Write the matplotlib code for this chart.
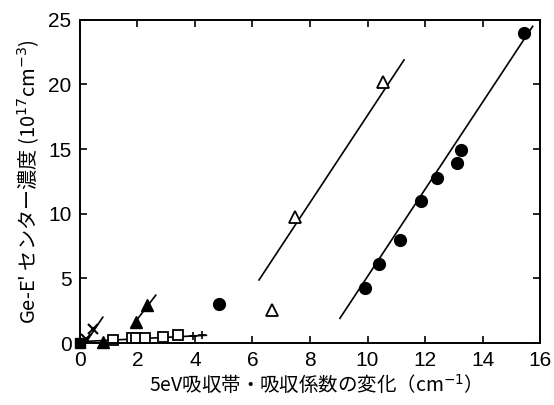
import matplotlib
matplotlib.use("Agg")
import matplotlib.pyplot as plt

plt.rcParams['font.family'] = ['Liberation Sans', 'Noto Sans CJK JP', 'DejaVu Sans']

# filled circles
circ_x = [4.85, 9.91, 10.41, 11.13, 11.85, 12.43, 13.12, 13.24, 15.44]
circ_y = [3.02, 4.28, 6.09, 7.97, 11.0, 12.8, 13.95, 14.9, 24.0]
circ_fit_x = [9.04, 15.74]
circ_fit_y = [1.91, 24.5]

# open triangles
otri_x = [6.69, 7.48, 10.53]
otri_y = [2.55, 9.78, 20.2]
otri_fit_x = [6.23, 11.27]
otri_fit_y = [4.88, 21.9]

# filled triangles
ftri_x = [0.81, 1.97, 2.32]
ftri_y = [0.05, 1.65, 2.94]
ftri_fit_x = [1.80, 2.64]
ftri_fit_y = [1.26, 3.7]

# crosses
cross_x = [0.22, 0.47]
cross_y = [0.35, 1.1]
cross_fit_x = [0.2, 0.8]
cross_fit_y = [0.0, 2.0]

# filled square
fsq_x = [0.0]
fsq_y = [0.0]

# open squares
osq_x = [1.16, 1.82, 1.95, 2.28, 2.9, 3.43]
osq_y = [0.25, 0.36, 0.36, 0.38, 0.5, 0.6]
plus_x = [3.95, 4.25]
plus_y = [0.55, 0.6]
osq_fit_x = [0.0, 4.4]
osq_fit_y = [0.1, 0.6]

fig = plt.figure(figsize=(5.54, 4.05), dpi=100)
ax = fig.add_axes([0.144, 0.153, 0.831, 0.798])

ln = dict(color='black', lw=1.2)
ax.plot(circ_fit_x, circ_fit_y, **ln)
ax.plot(otri_fit_x, otri_fit_y, **ln)
ax.plot(ftri_fit_x, ftri_fit_y, **ln)
ax.plot(cross_fit_x, cross_fit_y, **ln)
ax.plot(osq_fit_x, osq_fit_y, **ln)

ax.plot(circ_x, circ_y, 'o', color='black', ms=8.5, clip_on=False)
ax.plot(otri_x, otri_y, '^', mfc='white', mec='black', mew=1.3, ms=9)
ax.plot(ftri_x, ftri_y, '^', color='black', ms=8.5, clip_on=False)
ax.plot(cross_x, cross_y, 'x', color='black', ms=7, mew=1.5)
ax.plot(osq_x, osq_y, 's', mfc='white', mec='black', mew=1.3, ms=7, clip_on=False)
ax.plot(plus_x, plus_y, '+', color='black', ms=6, mew=1.2)
ax.plot(fsq_x, fsq_y, 's', color='black', ms=7.5, clip_on=False, zorder=5)

ax.set_xlim(0, 16)
ax.set_ylim(0, 25)
ax.set_xticks(range(0, 17, 2))
ax.set_yticks(range(0, 26, 5))
ax.tick_params(direction='in', top=True, right=True, length=5, width=1.2,
               labelsize=15, pad=6)
for s in ax.spines.values():
    s.set_linewidth(1.4)

ax.set_xlabel('5eV吸収帯・吸収係数の変化（cm$^{-1}$）', fontsize=14,
              family=['Noto Sans CJK JP', 'DejaVu Sans'], labelpad=2)
ax.set_ylabel("Ge-E' センター濃度 (10$^{17}$cm$^{-3}$)", fontsize=14.5,
              family=['Noto Sans CJK JP', 'DejaVu Sans'], labelpad=5)

fig.savefig('out.png', dpi=100)
